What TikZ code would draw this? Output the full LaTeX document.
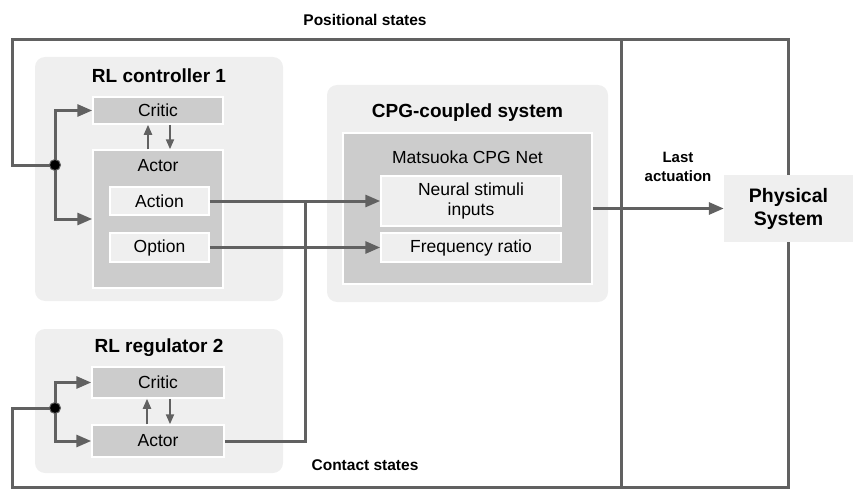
\documentclass[tikz,border=0pt]{standalone}
\usepackage{fontspec}
\setmainfont{Liberation Sans}
\usetikzlibrary{arrows.meta}
\definecolor{lineg}{HTML}{616161}
\definecolor{panel}{HTML}{EFEFEF}
\definecolor{boxg}{HTML}{CCCCCC}
\begin{document}
\begin{tikzpicture}[x=1pt,y=-1pt,
  panelbox/.style={fill=panel,rounded corners=10pt,inner sep=0pt},
  darkbox/.style={fill=boxg,draw=white,line width=1.5pt,inner sep=0pt},
  lightbox/.style={fill=panel,draw=white,line width=1.5pt,inner sep=0pt,font=\fontsize{17.5}{20}\selectfont,align=center},
  titletext/.style={font=\bfseries\fontsize{19}{22}\selectfont},
  normtext/.style={font=\fontsize{17.5}{21}\selectfont},
  labtext/.style={font=\bfseries\fontsize{15.5}{19}\selectfont,align=center},
  conn/.style={draw=lineg,line width=3pt},
  arr/.style={conn,-{Triangle[length=15pt,width=12pt]}},
  smallarr/.style={draw=lineg,line width=2pt,-{Triangle[length=10pt,width=8pt]}},
  jdot/.style={circle,fill=black,draw=lineg,line width=1pt,minimum size=11pt,inner sep=0pt}
]
\useasboundingbox (0,0) rectangle (863,503);
% panels
\node[panelbox,minimum width=248pt,minimum height=244pt] (ctrl) at (159,179) {};
\node[titletext] (ctrlt) at (159,76) {RL controller 1};
\node[panelbox,minimum width=248pt,minimum height=144pt] (reg) at (159,401) {};
\node[titletext] (regt) at (159,348) {RL regulator 2};
\node[panelbox,minimum width=281pt,minimum height=217pt] (cpg) at (467.5,193.5) {};
\node[titletext] (cpgt) at (467.5,113) {CPG-coupled system};
% controller 1
\node[darkbox,minimum width=130pt,minimum height=27pt,normtext] (critic1) at (158,110.5) {Critic};
\node[darkbox,minimum width=130pt,minimum height=138pt] (actor1) at (158,219) {};
\node[normtext] (actor1t) at (158,166) {Actor};
\node[lightbox,minimum width=99pt,minimum height=28pt] (action) at (159.5,201) {Action};
\node[lightbox,minimum width=99pt,minimum height=29pt] (option) at (159.5,247.5) {Option};
% regulator 2
\node[darkbox,minimum width=132pt,minimum height=31pt,normtext] (critic2) at (158,382.5) {Critic};
\node[darkbox,minimum width=132pt,minimum height=32pt,normtext] (actor2) at (158,441) {Actor};
% CPG
\node[darkbox,minimum width=249pt,minimum height=151pt] (mats) at (467.5,208.5) {};
\node[normtext] (matst) at (467.5,157) {Matsuoka CPG Net};
\node[lightbox,minimum width=180pt,minimum height=50pt] (neural) at (471,201) {Neural stimuli\\inputs};
\node[lightbox,minimum width=180pt,minimum height=29pt] (freq) at (471,247.5) {Frequency ratio};
% physical
\node[fill=panel,minimum width=129pt,minimum height=67pt,inner sep=0pt,align=center,font=\bfseries\fontsize{19.5}{23}\selectfont] (phys) at (788.5,208.5) {Physical\\System};
% labels
\node[labtext] (posl) at (365,20) {Positional states};
\node[labtext] (conl) at (365,465) {Contact states};
\node[labtext,font=\bfseries\fontsize{15}{19}\selectfont] (lastl) at (678,167) {Last\\actuation};
% coordinates
\coordinate (dot1) at (55,165);
\coordinate (dot2) at (55,408);
\coordinate (tl) at (12,40);
\coordinate (bl) at (12,487);
\coordinate (vtop) at (621,40);
\coordinate (vbot) at (621,487);
\coordinate (jn) at (305,201);
% loops
\draw[conn] (phys.north) |- (tl) |- (dot1);
\draw[conn] (phys.south) |- (bl) |- (dot2);
\draw[conn] (vtop) -- (vbot);
% branches
\draw[arr] (dot1) |- (critic1.west);
\draw[arr] (dot1) |- (actor1.west);
\draw[arr] (dot2) |- (critic2.west);
\draw[arr] (dot2) |- (actor2.west);
\node[jdot] (d1) at (dot1) {};
\node[jdot] (d2) at (dot2) {};
% critic/actor
\draw[smallarr] ([xshift=-10pt]actor1.north) -- ([xshift=-10pt]critic1.south);
\draw[smallarr] ([xshift=12pt]critic1.south) -- ([xshift=12pt]actor1.north);
\draw[smallarr] ([xshift=-11pt]actor2.north) -- ([xshift=-11pt]critic2.south);
\draw[smallarr] ([xshift=12pt]critic2.south) -- ([xshift=12pt]actor2.north);
% signals
\draw[arr] (action.east) -- (neural.west);
\draw[arr] (option.east) -- (freq.west);
\draw[conn] (actor2.east) -| (jn);
\draw[arr] (mats.east) -- (phys.west);
\end{tikzpicture}
\end{document}
